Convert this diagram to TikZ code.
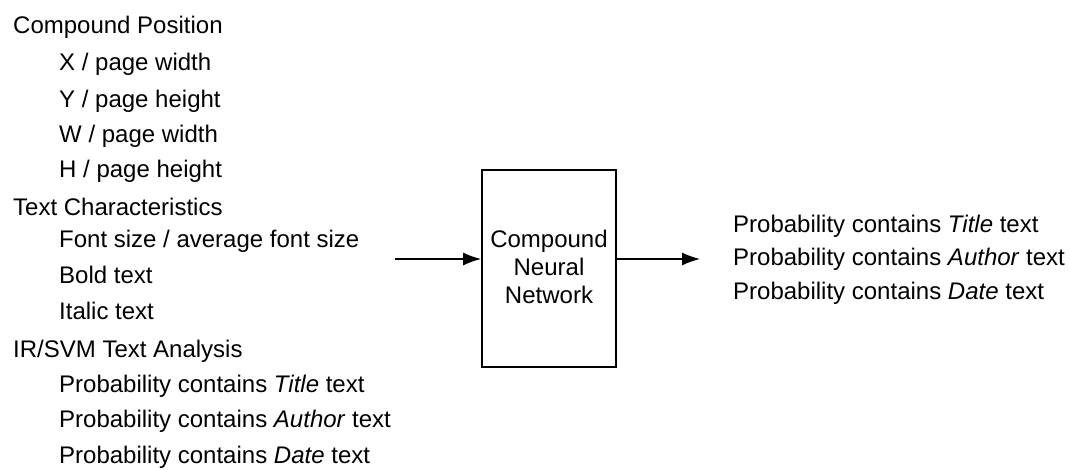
\documentclass[tikz,border=0pt]{standalone}
\usepackage{fontspec}
\setmainfont{Liberation Sans}
\usetikzlibrary{arrows.meta}
\begin{document}
\begin{tikzpicture}[x=1pt,y=-1pt,
  txt/.style={anchor=base west,inner sep=0pt,font=\fontsize{24}{28}\selectfont},
  netbox/.style={draw,line width=1.8pt,minimum width=134pt,minimum height=197pt,
    align=center,inner sep=0pt,font=\fontsize{24}{28}\selectfont},
  flow/.style={line width=1.4pt,-{Latex[length=18pt,width=13pt]}}]
\useasboundingbox (0,0) rectangle (1070,469);
% input features
\node[txt] (cp) at (13,33) {Compound Position};
\node[txt] (x) at (59,70) {X / page width};
\node[txt] (y) at (59,107) {Y / page height};
\node[txt] (w) at (59,142) {W / page width};
\node[txt] (h) at (59,177) {H / page height};
\node[txt] (tc) at (13,215) {Text Characteristics};
\node[txt] (fs) at (59,247) {Font size / average font size};
\node[txt] (bt) at (59,283) {Bold text};
\node[txt] (it) at (59,319) {Italic text};
\node[txt] (ir) at (13,357) {IR/SVM Text Analysis};
\node[txt] (pt) at (59,392) {Probability contains \textit{Title} text};
\node[txt] (pa) at (59,427) {Probability contains \textit{Author} text};
\node[txt] (pd) at (59,463) {Probability contains \textit{Date} text};
% network
\node[netbox] (net) at (549,268.5) {};
\node[txt,anchor=base] (n1) at (549,247) {Compound};
\node[txt,anchor=base] (n2) at (549,275) {Neural};
\node[txt,anchor=base] (n3) at (549,303) {Network};
% outputs
\node[txt] (ot) at (733,232) {Probability contains \textit{Title} text};
\node[txt] (oa) at (733,265) {Probability contains \textit{Author} text};
\node[txt] (od) at (733,299) {Probability contains \textit{Date} text};
% connectors
\coordinate (in) at (395,259);
\coordinate (out) at (700,259);
\draw[flow] (in) -- (in -| net.west);
\draw[flow] (out -| net.east) -- (out);
\end{tikzpicture}
\end{document}
